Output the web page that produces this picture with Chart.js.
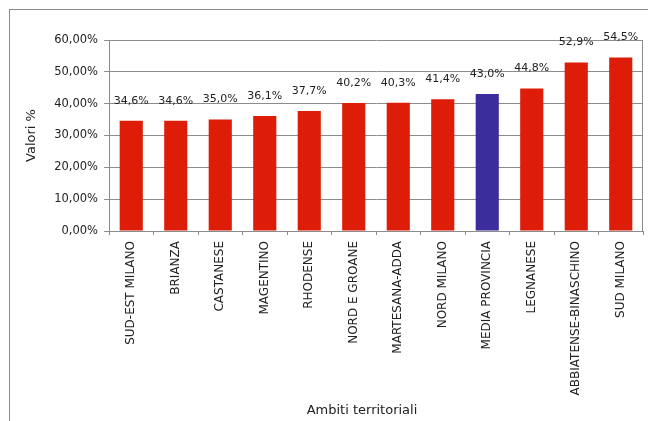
<!DOCTYPE html>
<html>
<head>
<meta charset="utf-8">
<script src="https://cdn.jsdelivr.net/npm/chart.js@4/dist/chart.umd.min.js"></script>
<style>
    html, body { margin: 0; padding: 0; background: #fff; }
    #wrap { position: relative; width: 648px; height: 421px; }
    #frame {
        position: absolute; left: 9px; top: 9px; right: -2px; bottom: -2px;
        border-left: 1px solid #8a8a8a; border-top: 1px solid #8a8a8a;
        pointer-events: none;
    }
</style>
</head>
<body>
<div id="wrap">
    <canvas id="chart" width="648" height="421"></canvas>
    <div id="frame"></div>
</div>
<script>
const categories = ['SUD-EST MILANO', 'BRIANZA', 'CASTANESE', 'MAGENTINO', 'RHODENSE', 'NORD E GROANE',
    'MARTESANA-ADDA', 'NORD MILANO', 'MEDIA PROVINCIA', 'LEGNANESE', 'ABBIATENSE-BINASCHINO', 'SUD MILANO'];
const values = [34.6, 34.6, 35.0, 36.1, 37.7, 40.2, 40.3, 41.4, 43.0, 44.8, 52.9, 54.5];
const highlight = 'MEDIA PROVINCIA';
const yTicks = [0, 10, 20, 30, 40, 50, 60];
const xTitle = 'Ambiti territoriali';

const RED = '#de1d08';
const BLUE = '#3b2d9c';
const TEXT = '#222';
const GRID = '#8c8c8c';
const FONT = '"DejaVu Sans", Verdana, sans-serif';

const comma = (v, d) => v.toFixed(d).replace('.', ',');

// value labels above each bar
const barLabels = {
    id: 'barLabels',
    afterDatasetsDraw(chart) {
        const ctx = chart.ctx;
        const meta = chart.getDatasetMeta(0);
        ctx.save();
        ctx.font = '11px ' + FONT;
        ctx.fillStyle = TEXT;
        ctx.textAlign = 'center';
        ctx.textBaseline = 'middle';
        meta.data.forEach((bar, i) => {
            ctx.fillText(comma(values[i], 1) + '%', bar.x, bar.y - 20);
        });
        ctx.restore();
    }
};

// right edge of the plot area + x axis title (sits a bit left of centre in the original)
const plotFrame = {
    id: 'plotFrame',
    beforeDatasetsDraw(chart) {
        const a = chart.chartArea;
        const ctx = chart.ctx;
        ctx.save();
        ctx.strokeStyle = GRID;
        ctx.lineWidth = 1;
        ctx.beginPath();
        ctx.moveTo(Math.round(a.right) - 0.5, a.top);
        ctx.lineTo(Math.round(a.right) - 0.5, a.bottom);
        ctx.stroke();
        ctx.restore();
    },
    afterDraw(chart) {
        const a = chart.chartArea;
        const ctx = chart.ctx;
        ctx.save();
        ctx.font = '13px ' + FONT;
        ctx.fillStyle = TEXT;
        ctx.textAlign = 'center';
        ctx.textBaseline = 'middle';
        ctx.fillText(xTitle, (a.left + a.right) / 2 - 14, chart.height - 10);
        ctx.restore();
    }
};

new Chart(document.getElementById('chart').getContext('2d'), {
    type: 'bar',
    data: {
        labels: categories,
        datasets: [{
            data: values,
            backgroundColor: categories.map(c => c === highlight ? BLUE : RED),
            borderWidth: 0,
            categoryPercentage: 1,
            barPercentage: 0.52
        }]
    },
    options: {
        responsive: false,
        animation: false,
        devicePixelRatio: 1,
        layout: { padding: { left: 0, top: 40, right: 5, bottom: 0 } },
        plugins: { legend: { display: false }, tooltip: { enabled: false } },
        scales: {
            x: {
                afterFit: s => { s.height = 190; },
                grid: { drawOnChartArea: false, drawTicks: true, tickLength: 4, color: GRID },
                border: { color: GRID },
                ticks: {
                    color: TEXT, font: { family: FONT, size: 12 },
                    minRotation: 90, maxRotation: 90, autoSkip: false, padding: 6
                }
            },
            y: {
                min: 0, max: 60,
                afterFit: s => { s.width = 109; },
                afterBuildTicks: s => { s.ticks = yTicks.map(v => ({ value: v })); },
                grid: { color: GRID, tickLength: 5 },
                border: { color: GRID },
                ticks: {
                    color: TEXT, font: { family: FONT, size: 11.5 }, padding: 6,
                    callback: v => comma(v, 2) + '%'
                },
                title: {
                    display: true, text: 'Valori %', color: TEXT,
                    font: { family: FONT, size: 13 }, padding: { top: 24, bottom: 0 }
                }
            }
        }
    },
    plugins: [barLabels, plotFrame]
});
</script>
</body>
</html>
